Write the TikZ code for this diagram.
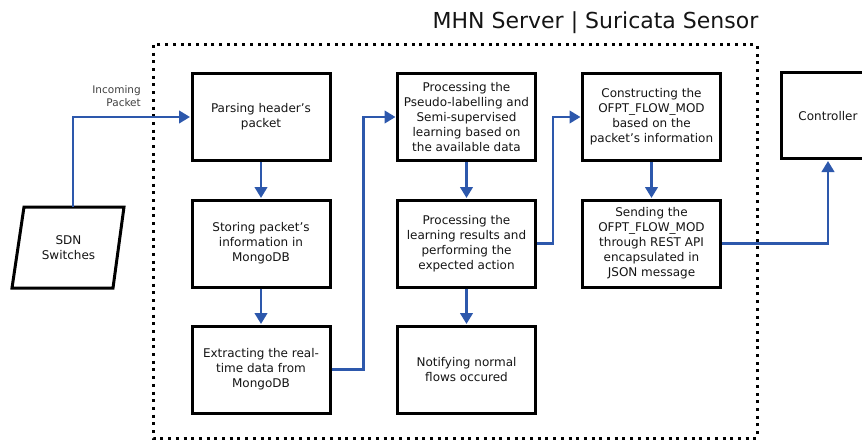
\documentclass[tikz,border=0pt]{standalone}
\usepackage{fontspec}
\setmainfont{DejaVu Sans}
\usetikzlibrary{arrows.meta}
\definecolor{flowblue}{RGB}{45,88,172}
\definecolor{txt}{RGB}{20,20,20}
\tikzset{
  x=1pt, y=-1pt,
  stepbox/.style={draw=black, line width=3pt, rectangle, minimum width=138pt, minimum height=87pt,
    align=center, font=\fontsize{12}{15}\selectfont, text=txt, inner sep=0pt},
  arr/.style={draw=flowblue, line width=2.6pt, -{Triangle[length=11pt,width=12.5pt]}, shorten >=0.5pt},
  frame/.style={draw=black, line width=3pt, dash pattern=on 3pt off 4.7pt},
}
\begin{document}
\begin{tikzpicture}
\useasboundingbox (0,0) rectangle (862,441);
% dotted frame
\draw[frame] (153,45) rectangle (757,438);
\node[anchor=base, font=\fontsize{22}{26}\selectfont, text=txt] (title) at (595.5,29) {MHN Server | Suricata Sensor};
% boxes
\node[stepbox] (b1) at (261,117) {Parsing header’s\\packet};
\node[stepbox] (b2) at (261,243.5) {Storing packet’s\\information in\\MongoDB};
\node[stepbox] (b3) at (261,369.5) {Extracting the real-\\time data from\\MongoDB};
\node[stepbox] (b4) at (466.5,117) {Processing the\\Pseudo-labelling and\\Semi-supervised\\learning based on\\the available data};
\node[stepbox] (b5) at (466.5,243.5) {Processing the\\learning results and\\performing the\\expected action};
\node[stepbox] (b6) at (466.5,369.5) {Notifying normal\\flows occured};
\node[stepbox] (b7) at (651.5,117) {Constructing the\\OFPT\_FLOW\_MOD\\based on the\\packet’s information};
\node[stepbox] (b8) at (651.5,243.5) {Sending the\\OFPT\_FLOW\_MOD\\through REST API\\encapsulated in\\JSON message};
\node[stepbox, minimum width=94pt, minimum height=86pt] (ctrl) at (828,116) {Controller};
% SDN switches parallelogram
\draw[line width=3pt, line join=miter] (24,207) -- (124,207) -- (113,288) -- (12,288) -- cycle;
\node[align=center, font=\fontsize{12}{15}\selectfont, text=txt] (sdn) at (68.5,247.5) {SDN\\Switches};
\coordinate (sdntop) at (73,207);
\node[anchor=east, align=right, font=\fontsize{10.5}{12.5}\selectfont, text=black!75, inner sep=0pt] (inc) at (141,96) {Incoming\\Packet};
% connectors
\draw[arr] (sdntop) |- (b1.west);
\draw[arr] (b1.south) -- (b2.north);
\draw[arr] (b2.south) -- (b3.north);
\draw[arr] (b3.east) -- ++(32,0) |- (b4.west);
\draw[arr] (b4.south) -- (b5.north);
\draw[arr] (b5.south) -- (b6.north);
\draw[arr] (b5.east) -- ++(16,0) |- (b7.west);
\draw[arr] (b7.south) -- (b8.north);
\draw[arr] (b8.east) -| (ctrl.south);
\end{tikzpicture}
\end{document}
